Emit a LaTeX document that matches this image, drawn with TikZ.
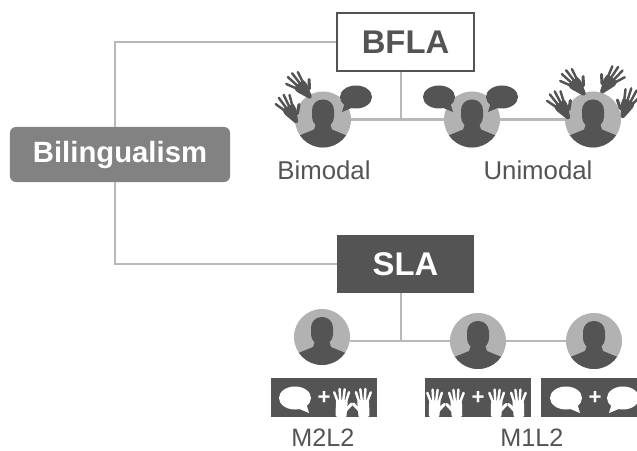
\documentclass[tikz,border=0pt]{standalone}
\usepackage{fontspec}
\setmainfont{Liberation Sans}
\definecolor{icondark}{gray}{0.33}
\definecolor{iconmid}{gray}{0.70}
\definecolor{boxmid}{gray}{0.51}
\definecolor{linkgray}{gray}{0.72}
\definecolor{labelgray}{gray}{0.33}
\tikzset{
  link/.style={draw=linkgray, line width=2.5pt},
  topbox/.style={rectangle, minimum width=4.11cm, minimum height=1.74cm, font=\fontsize{28}{30}\selectfont\bfseries},
  personnode/.style={circle, fill=iconmid, minimum size=1.68cm, inner sep=0pt},
  tagbox/.style={rectangle, fill=icondark, minimum height=1.17cm, inner sep=0pt},
  grouplabel/.style={text=labelgray, inner sep=0pt, font=\fontsize{22}{24}\selectfont},
  codelabel/.style={text=labelgray, inner sep=0pt, font=\fontsize{21.5}{24}\selectfont},
  plussign/.style={text=white, inner sep=0pt, font=\fontsize{19}{20}\selectfont\bfseries},
  pics/personicon/.style={code={
    \begin{scope}
      \clip (0,0) circle (28);
      \fill[icondark] (-26,17) -- (-9,10) -- (-7,4) -- (7,4) -- (9,10) -- (26,17) -- (26,30) -- (-26,30) -- cycle;
    \end{scope}
    \fill[icondark, rounded corners=9] (-11,-20) rectangle (11,8);
  }},
  pics/bubbleicon/.style={code={
    \fill[#1] (0,0) ellipse (16 and 11.5);
    \fill[#1] (-11,5) -- (-14,15) -- (-2,10) -- cycle;
  }},
  pics/handicon/.style 2 args={code={
    \fill[#1, rounded corners=1] (-#2,0) -- (-6.5,-14) -- (-6,-19) -- (6.5,-19) -- (6.5,-13) -- (#2,0) -- cycle;
    \foreach \xa/\xb/\yb in {-5/-9/-27, -1.8/-3.2/-31, 1.5/2.5/-31, 4.8/7.5/-28}
      \draw[#1, line width=2.1pt, line cap=round] (\xa,-18) -- (\xb,\yb);
    \draw[#1, line width=2.6pt, line cap=round] (5,-8) -- (11,-15);
  }},
}
\begin{document}
\begin{tikzpicture}[x=0.03cm, y=-0.03cm]
\useasboundingbox (0,0) rectangle (637,451);

\node[rectangle, rounded corners=5pt, fill=boxmid, text=white, minimum width=6.6cm, minimum height=1.65cm, font=\fontsize{25}{28}\selectfont\bfseries] (bili) at (120,154.5) {Bilingualism};
\node[topbox, draw=icondark, line width=1.7pt, text=icondark] (bfla) at (405.5,42) {BFLA};
\node[topbox, fill=icondark, text=white] (sla) at (405.5,264) {SLA};

\coordinate (bilitop) at (115,127);
\coordinate (bilibot) at (115,182);
\draw[link] (bfla.west) -| (bilitop);
\draw[link] (sla.west) -| (bilibot);

% BFLA people
\node[personnode] (bflaa) at (323,119.5) {};
\node[personnode] (bflab) at (472,119.5) {};
\node[personnode] (bflac) at (593,119.5) {};
\coordinate (bflajoin) at (401,119.5);
\draw[link] (bflaa) -- (bflab);
\draw[link] (bflab) -- (bflac);
\draw[link] (bfla.south -| bflajoin) -- (bflajoin);
\pic at (bflaa) {personicon};
\pic at (bflab) {personicon};
\pic at (bflac) {personicon};

\pic[rotate=42] at (311,98) {handicon={icondark}{1.5}};
\pic[rotate=30] at (297,123) {handicon={icondark}{1.5}};
\pic at (356,97) {bubbleicon=icondark};
\pic[xscale=-1] at (439,97) {bubbleicon=icondark};
\pic at (502,97) {bubbleicon=icondark};
\pic[rotate=42] at (585,95) {handicon={icondark}{1.5}};
\pic[rotate=32] at (569,119) {handicon={icondark}{1.5}};
\pic[rotate=-38, xscale=-1] at (601,93) {handicon={icondark}{1.5}};
\pic[rotate=-22, xscale=-1] at (622,118) {handicon={icondark}{1.5}};

\node[grouplabel] (bimodal) at (324,170) {Bimodal};
\node[grouplabel] (unimodal) at (538,170) {Unimodal};

% SLA people
\node[personnode] (slaa) at (322,337) {};
\node[personnode] (slab) at (478,341) {};
\node[personnode] (slac) at (594,341) {};
\coordinate (slajoin) at (401,341);
\draw[link] (slaa.east |- slajoin) -- (slab);
\draw[link] (slab) -- (slac);
\draw[link] (sla.south -| slajoin) -- (slajoin);
\pic at (slaa) {personicon};
\pic at (slab) {personicon};
\pic at (slac) {personicon};

\node[tagbox, minimum width=3.18cm] (taga) at (324,397.5) {};
\node[tagbox, minimum width=3.18cm] (tagb) at (478,397.5) {};
\node[tagbox, minimum width=2.88cm] (tagc) at (589,397.5) {};

\pic[xscale=-1] at (295,398) {bubbleicon=white};
\node[plussign] (plusa) at (324,398) {+};
\pic[rotate=-3, scale=.9] at (341,417) {handicon={white}{6}};
\pic[rotate=3, xscale=-.9, yscale=.9] at (364,417) {handicon={white}{6}};

\pic[rotate=-3, scale=.88] at (434,417) {handicon={white}{6}};
\pic[rotate=3, xscale=-.88, yscale=.88] at (457,417) {handicon={white}{6}};
\node[plussign] (plusb) at (478,398) {+};
\pic[rotate=-3, scale=.88] at (496,417) {handicon={white}{6}};
\pic[rotate=3, xscale=-.88, yscale=.88] at (519,417) {handicon={white}{6}};

\pic[xscale=-1] at (566,398) {bubbleicon=white};
\node[plussign] (plusc) at (595,398) {+};
\pic at (623,398) {bubbleicon=white};

\node[codelabel] (mtwo) at (323,437.5) {M2L2};
\node[codelabel] (mone) at (532,437.5) {M1L2};
\end{tikzpicture}
\end{document}
